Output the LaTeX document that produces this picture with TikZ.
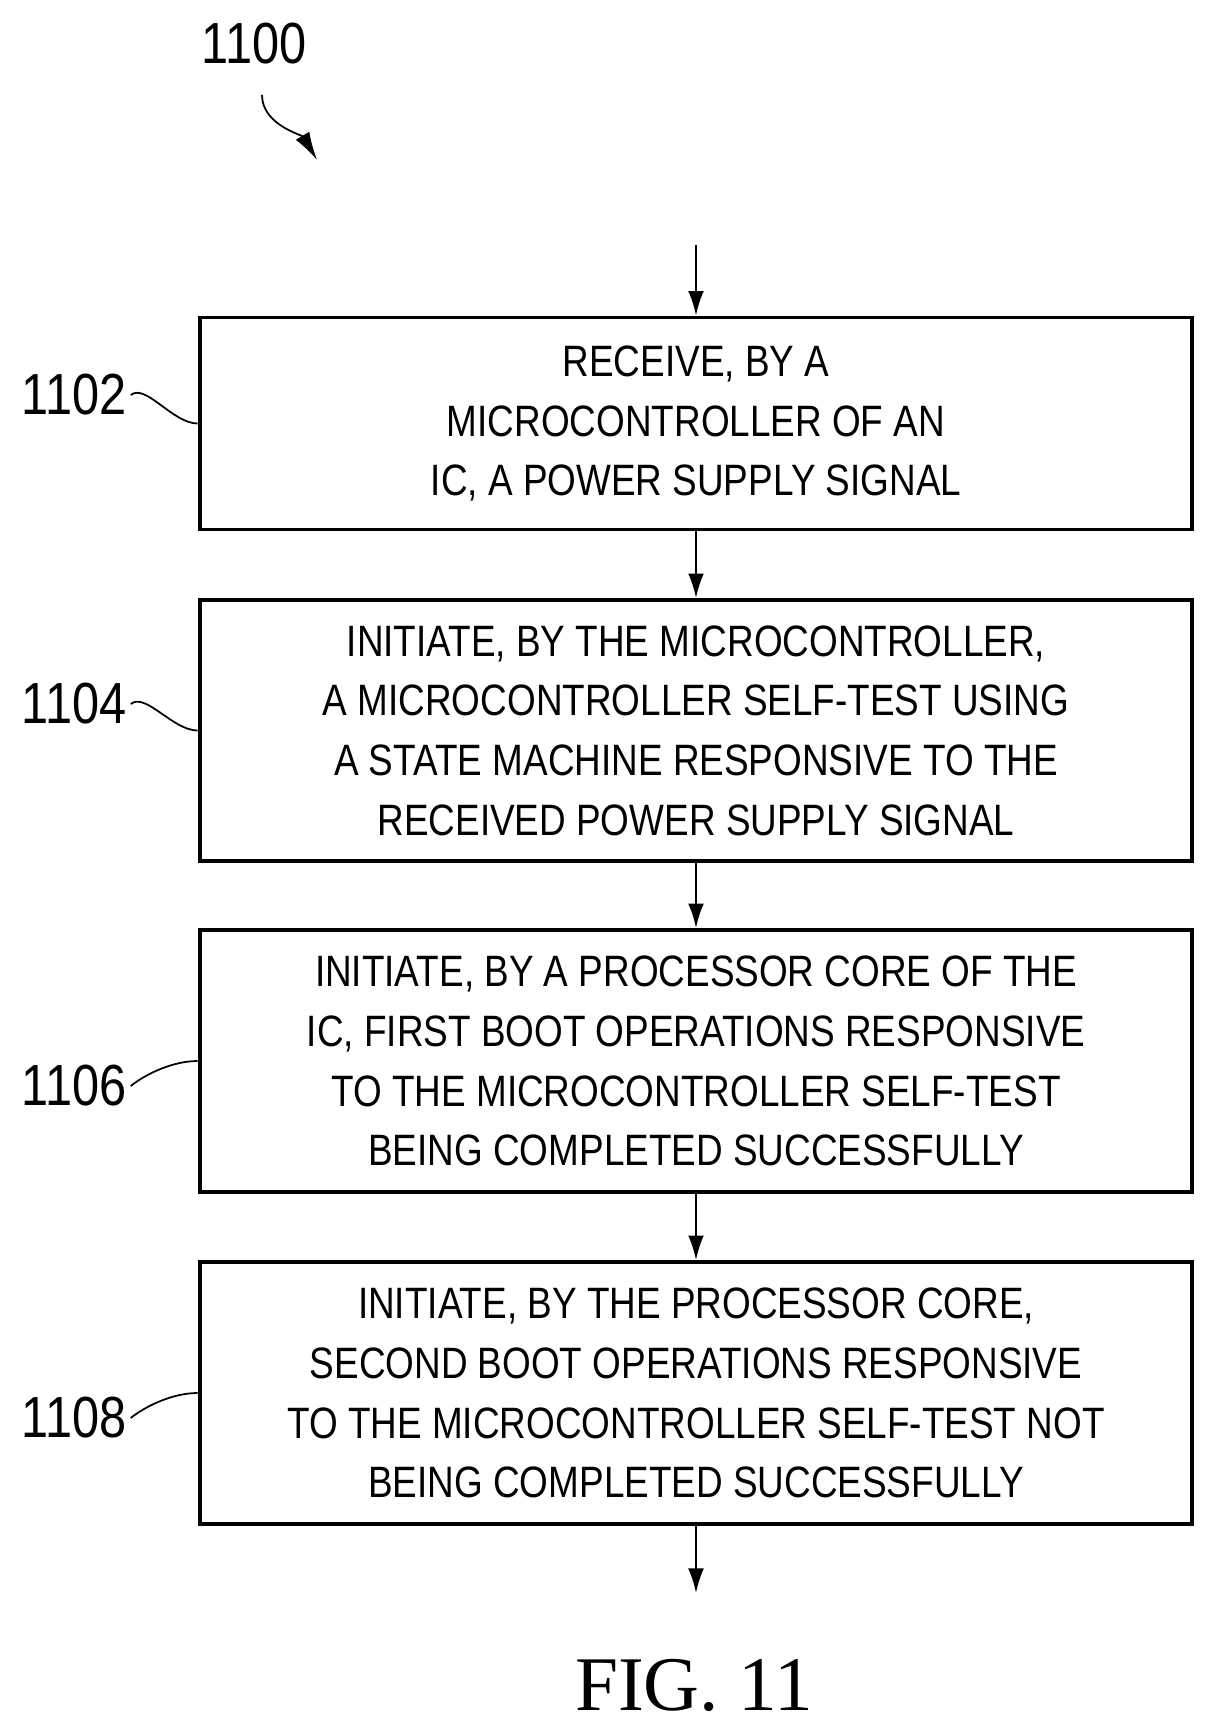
\documentclass[tikz,border=0pt]{standalone}
\usepackage{fontspec}
\setmainfont{Liberation Sans}[FakeStretch=0.84]
\newfontfamily\figfont{Liberation Serif}
\usetikzlibrary{arrows.meta}
\tikzstyle{stepbox}=[draw=black,line width=2.2pt,minimum width=19.86cm,minimum height=4.24cm,inner sep=0pt,align=center,font=\fontsize{25}{34}\selectfont]
\tikzstyle{refnum} =[inner sep=0pt,font=\fontsize{33}{40}\selectfont]
\tikzstyle{flow}   =[draw,line width=1.2pt,-{Latex[length=14pt,width=9pt]}]
\tikzstyle{lead}   =[draw,line width=1pt]

\begin{document}
\begin{tikzpicture}[x=0.02cm,y=-0.02cm]
   		\useasboundingbox (0,0) rectangle (1215,1732);
   		
   		%%%%% Steps
   		\node[stepbox] (s1) at (696,423.5) {RECEIVE, BY A\\MICROCONTROLLER OF AN\\IC, A POWER SUPPLY SIGNAL};
   		\node[stepbox,minimum height=5.22cm] (s2) at (696,730.5) {INITIATE, BY THE MICROCONTROLLER,\\A MICROCONTROLLER SELF-TEST USING\\A STATE MACHINE RESPONSIVE TO THE\\RECEIVED POWER SUPPLY SIGNAL};
   		\node[stepbox,minimum height=5.24cm] (s3) at (696,1061) {INITIATE, BY A PROCESSOR CORE OF THE\\IC, FIRST BOOT OPERATIONS RESPONSIVE\\TO THE MICROCONTROLLER SELF-TEST\\BEING COMPLETED SUCCESSFULLY};
   		\node[stepbox,minimum height=5.24cm] (s4) at (696,1393) {INITIATE, BY THE PROCESSOR CORE,\\SECOND BOOT OPERATIONS RESPONSIVE\\TO THE MICROCONTROLLER SELF-TEST NOT\\BEING COMPLETED SUCCESSFULLY};
   		
   		\coordinate (in) at (696,245);
   		\coordinate (out) at (696,1593);
   		
   		%%%% Reference numbers
   		\node[refnum] (r0) at (254,44) {1100};
   		\foreach \name/\y/\txt in {r1/395/1102, r2/704/1104, r3/1086/1106, r4/1418/1108}
   		\node[refnum] (\name) at (74,\y) {\txt};
   		
   		%%%% Flow
   		\foreach \source/ \dest in {in/s1,s1/s2,s2/s3,s3/s4,s4/out}	\path[flow] (\source) -- (\dest) ;
   		
   		%%%% Leaders
   		\foreach \num/ \dest in {r1/s1,r2/s2,r3/s3,r4/s4}
   		\path[lead] (\num.east) ++(4,0) .. controls +(15,-12) and +(-25,0) .. (\dest.west);
   		\path[lead,-{Latex[length=16pt,width=9pt]}] (r0.south) ++(8,30) .. controls +(0,30) and +(-15,-25) .. ++(55,65);
   		
   		\node[inner sep=0pt,font=\figfont\fontsize{44}{50}\selectfont] (fig) at (694,1685) {FIG. 11};
\end{tikzpicture}
\end{document}
